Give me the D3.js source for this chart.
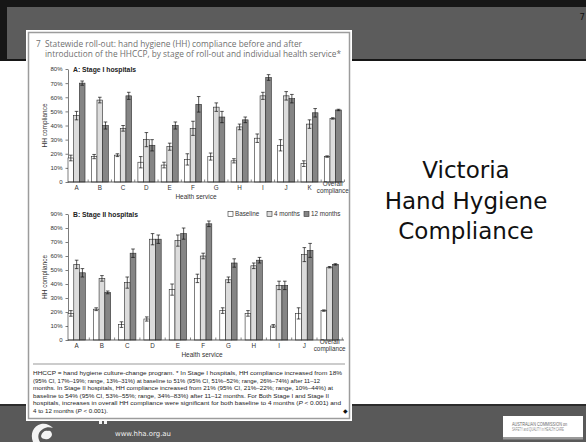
<!DOCTYPE html>
<html><head><meta charset="utf-8">
<script src="https://cdn.jsdelivr.net/npm/d3@7"></script>
<style>html,body{margin:0;padding:0;background:#fff;overflow:hidden}</style>
</head><body><svg id="c" width="586" height="442"></svg>
<script>
// ---------- DATA ----------
const seriesNames = ["Baseline", "4 months", "12 months"];
const categoriesA = ["A","B","C","D","E","F","G","H","I","J","K","Overall compliance"];
const baselineA = [17,18,19,14,12,16,18,15,31,26,13,18];
const months4A  = [47,58,38,30,25,38,53,39,61,61,41,45];
const months12A = [70,40,61,26,40,55,46,44,74,59,49,51];
const baselineErrA = [2,1.5,1,4,2,4,2.5,1.5,3,4,2,0.5];
const months4ErrA  = [3,2,2,5,2.5,5,3,2,2.5,3,3,0.5];
const months12ErrA = [1.5,2.5,2.5,4,2.5,5.5,4,2,2,3,3,0.5];

const categoriesB = ["A","B","C","D","E","F","G","H","I","J","Overall compliance"];
const baselineB = [19,22,11,15,36,44,21,19,10,19,21];
const months4B  = [54,44,41,72,71,60,43,53,39,61,52];
const months12B = [48,34,62,72,76,83,55,57,39,64,54];
const baselineErrB = [2,1,2,1.5,4,3,2,2,1,4,0.5];
const months4ErrB  = [3,2,4,4,4,2,2,2,3,5,0.5];
const months12ErrB = [3,1,3,3,4,2,3,2,3,5,0.5];

const yTicksA = [0,10,20,30,40,50,60,70,80];
const yTicksB = [0,10,20,30,40,50,60,70,80,90];

const footnoteLines = [
  "HHCCP = hand hygiene culture-change program. * In Stage I hospitals, HH compliance increased from 18%",
  "(95% CI, 17%–19%; range, 13%–31%) at baseline to 51% (95% CI, 51%–52%; range, 26%–74%) after 11–12",
  "months. In Stage II hospitals, HH compliance increased from 21% (95% CI, 21%–22%; range, 10%–44%) at",
  "baseline to 54% (95% CI, 53%–55%; range, 34%–83%) after 11–12 months. For Both Stage I and Stage II",
  "hospitals, increases in overall HH compliance were significant for both baseline to 4 months (P < 0.001) and",
  "4 to 12 months (P < 0.001)."
];
const titleLines = ["Victoria", "Hand Hygiene", "Compliance"];

// ---------- DRAW ----------
const svg = d3.select("#c");
const fills = ["#ffffff", "#dcdcdc", "#858585"];
const CF = "'Liberation Sans', Arial, sans-serif";

// slide background pieces
svg.append("rect").attr("x",0).attr("y",0).attr("width",586).attr("height",442).attr("fill","#fff");
svg.append("rect").attr("x",0).attr("y",0).attr("width",586).attr("height",61).attr("fill","#161616");
svg.append("rect").attr("x",7).attr("y",7).attr("width",579).attr("height",52).attr("fill","#5c5c5c");
svg.append("rect").attr("x",0).attr("y",404).attr("width",586).attr("height",38).attr("fill","#2c2c2c");
svg.append("rect").attr("x",0).attr("y",406).attr("width",586).attr("height",36).attr("fill","#595959");

svg.append("text").attr("x",585).attr("y",20).attr("text-anchor","end")
  .attr("font-family","'DejaVu Sans', sans-serif").attr("font-size",8.5).attr("fill","#111").text("7");

// Title
const tt = svg.append("text").attr("text-anchor","middle")
  .attr("font-family","'DejaVu Sans', Verdana, sans-serif").attr("font-size",23).attr("fill","#111");
titleLines.forEach((t,i)=>tt.append("tspan").attr("x",466).attr("y",178+i*30.5).text(t));

// bottom logos
const lg = svg.append("g").attr("fill","#f4f4f4");
lg.append("path").attr("d","M33,442 C30,434 33,426 41,424 C46,423 50,425 53,428 C50,427 46,427 43,429 C38,432 37,437 40,442 Z");
lg.append("path").attr("d","M41,436 C42,432 45,430 48,431 C50,430 52,432 52,435 C51,438 48,440 45,439 C43,439 41,438 41,436 Z");
lg.append("rect").attr("x",99).attr("y",421).attr("width",3).attr("height",3);
lg.append("rect").attr("x",104).attr("y",421).attr("width",3).attr("height",3);
svg.append("text").attr("x",115).attr("y",436).attr("font-family","'DejaVu Sans', Verdana, sans-serif")
  .attr("font-size",7).attr("fill","#f0f0f0").attr("textLength",56).attr("lengthAdjust","spacingAndGlyphs").text("www.hha.org.au");
svg.append("rect").attr("x",503).attr("y",416).attr("width",80).attr("height",21).attr("fill","#fff");
svg.append("rect").attr("x",503).attr("y",437).attr("width",80).attr("height",2.5).attr("fill","#9a9a9a");
svg.append("text").attr("transform","translate(512,425.5) scale(0.85,1)").attr("font-family",CF)
  .attr("font-size",4.5).attr("fill","#666").text("AUSTRALIAN COMMISSION on");
svg.append("text").attr("transform","translate(512,431) scale(0.62,1)").attr("font-family",CF)
  .attr("font-size",4.5).attr("fill","#888").text("SAFETY and QUALITY in HEALTH CARE");

// Card
svg.append("rect").attr("x",26).attr("y",30).attr("width",326).attr("height",391).attr("fill","#fff");
svg.append("rect").attr("x",28.5).attr("y",32.5).attr("width",321).attr("height",386)
  .attr("fill","none").attr("stroke","#9c9c9c").attr("stroke-width",1.5);

// card title
const ctF = "'Open Sans', 'Noto Sans', sans-serif";
svg.append("text").attr("x",36).attr("y",47).attr("font-family",ctF).attr("font-size",8.3).attr("fill","#6f6f6f").text("7");
svg.append("text").attr("x",45).attr("y",47).attr("font-family",ctF).attr("font-size",8.3).attr("fill","#6f6f6f")
  .attr("textLength",257).attr("lengthAdjust","spacingAndGlyphs")
  .text("Statewide roll-out: hand hygiene (HH) compliance before and after");
svg.append("text").attr("x",45).attr("y",56.5).attr("font-family",ctF).attr("font-size",8.3).attr("fill","#6f6f6f")
  .attr("textLength",296).attr("lengthAdjust","spacingAndGlyphs")
  .text("introduction of the HHCCP, by stage of roll-out and individual health service*");

function panel(o){
  const g = svg.append("g");
  const x = d3.scaleBand().domain(o.cats).range([68, o.xEnd]).paddingInner(o.pi).paddingOuter(0).align(0);
  const xs = d3.scaleBand().domain(seriesNames).range([0, x.bandwidth()]);
  const y = d3.scaleLinear().domain([0, o.max]).range([o.y0, o.yTop]);

  // y axis
  const ya = g.append("g").attr("transform","translate(68,0)")
    .call(d3.axisLeft(y).tickValues(o.ticks).tickSize(2.5).tickSizeOuter(0).tickPadding(3)
      .tickFormat(d => d===0 ? "0" : d + "%"));
  ya.selectAll("text").attr("font-family",CF).attr("font-size",6).attr("fill","#333");
  ya.selectAll("line,path").attr("stroke","#444").attr("stroke-width",0.7);

  // bars
  const vals = [o.base, o.m4, o.m12];
  const errs = [o.baseErr, o.m4Err, o.m12Err];
  seriesNames.forEach((s, si) => {
    g.append("g").selectAll("rect").data(o.cats).join("rect")
      .attr("x", c => x(c) + xs(s))
      .attr("y", (c,i) => y(vals[si][i]))
      .attr("width", xs.bandwidth())
      .attr("height", (c,i) => y(0) - y(vals[si][i]))
      .attr("fill", fills[si]).attr("stroke","#2a2a2a").attr("stroke-width",0.6);
  });
  seriesNames.forEach((s, si) => {
    const eg = g.append("g").attr("stroke","#111").attr("stroke-width",0.7);
    o.cats.forEach((c,i) => {
      const cx = x(c) + xs(s) + xs.bandwidth()/2;
      const lo = y(vals[si][i] - errs[si][i]), hi = y(vals[si][i] + errs[si][i]);
      eg.append("line").attr("x1",cx).attr("x2",cx).attr("y1",lo).attr("y2",hi);
      eg.append("line").attr("x1",cx-1.8).attr("x2",cx+1.8).attr("y1",lo).attr("y2",lo);
      eg.append("line").attr("x1",cx-1.8).attr("x2",cx+1.8).attr("y1",hi).attr("y2",hi);
    });
  });

  // x axis
  const xa = g.append("g").attr("transform",`translate(0,${o.y0})`)
    .call(d3.axisBottom(x).tickSize(0).tickPadding(4));
  xa.select(".domain").remove();
  g.append("line").attr("x1",68).attr("x2",344).attr("y1",o.y0).attr("y2",o.y0).attr("stroke","#333").attr("stroke-width",0.8);
  xa.selectAll("text").attr("font-family",CF).attr("font-size",6.3).attr("fill","#333");
  xa.selectAll(".tick text").filter(d => d === "Overall compliance").each(function(){
    const t = d3.select(this); t.text(null);
    t.append("tspan").attr("x",0).attr("dy","0em").text("Overall");
    t.append("tspan").attr("x",0).attr("dy","1.05em").text("compliance");
  });
  // separator ticks between groups
  const gap = x.step()*x.paddingInner();
  g.append("g").selectAll("line").data(o.cats).join("line")
    .attr("x1", c => x(c) + x.bandwidth() + gap/2).attr("x2", c => x(c) + x.bandwidth() + gap/2)
    .attr("y1", o.y0).attr("y2", o.y0 - 2.5).attr("stroke","#555").attr("stroke-width",0.7);

  g.append("text").attr("x",o.hsX).attr("y",o.y0+17).attr("text-anchor","middle")
    .attr("font-family",CF).attr("font-size",6.5).attr("fill","#333").text("Health service");
  g.append("text").attr("transform",`translate(47,${(o.y0+o.yTop)/2}) rotate(-90)`).attr("text-anchor","middle")
    .attr("font-family",CF).attr("font-size",6.5).attr("fill","#333").text("HH compliance");
  g.append("text").attr("x",73).attr("y",o.yTop+2.5).attr("font-family",CF).attr("font-weight","bold")
    .attr("font-size",6.8).attr("fill","#222").text(o.title);

  if (o.legend){
    const lx = [228, 267, 304];
    seriesNames.forEach((s,si) => {
      g.append("rect").attr("x",lx[si]).attr("y",o.yTop-2.5).attr("width",5).attr("height",5)
        .attr("fill",fills[si]).attr("stroke","#333").attr("stroke-width",0.6);
      g.append("text").attr("x",lx[si]+7).attr("y",o.yTop+2.3).attr("font-family",CF).attr("font-size",6.3)
        .attr("fill","#333").text(s);
    });
  }
}

panel({cats:categoriesA, base:baselineA, m4:months4A, m12:months12A,
  baseErr:baselineErrA, m4Err:months4ErrA, m12Err:months12ErrA,
  max:80, ticks:yTicksA, y0:182, yTop:69, xEnd:341.3, pi:0.27, title:"A: Stage I hospitals", legend:false, hsX:196});
panel({cats:categoriesB, base:baselineB, m4:months4B, m12:months12B,
  baseErr:baselineErrB, m4Err:months4ErrB, m12Err:months12ErrB,
  max:90, ticks:yTicksB, y0:340, yTop:214, xEnd:338.3, pi:0.316, title:"B: Stage II hospitals", legend:true, hsX:202});

// separator & footnote
svg.append("line").attr("x1",33).attr("x2",345).attr("y1",364).attr("y2",364).attr("stroke","#999").attr("stroke-width",1);
const fnLens = [309, 287, 300, 296, 308, 75];
footnoteLines.forEach((t,i) => {
  const tx = svg.append("text").attr("x",33).attr("y",375+i*7.6).attr("font-family",CF).attr("font-size",6.2)
    .attr("fill","#222").attr("textLength",fnLens[i]).attr("lengthAdjust","spacingAndGlyphs");
  const parts = t.split(/(\bP\b)/);
  parts.forEach(p => { const ts = tx.append("tspan").text(p); if (p === "P") ts.attr("font-style","italic"); });
});
svg.append("text").attr("x",343).attr("y",413).attr("font-family","'DejaVu Sans', sans-serif").attr("font-size",6)
  .attr("fill","#111").text("◆");
</script>
</body></html>
